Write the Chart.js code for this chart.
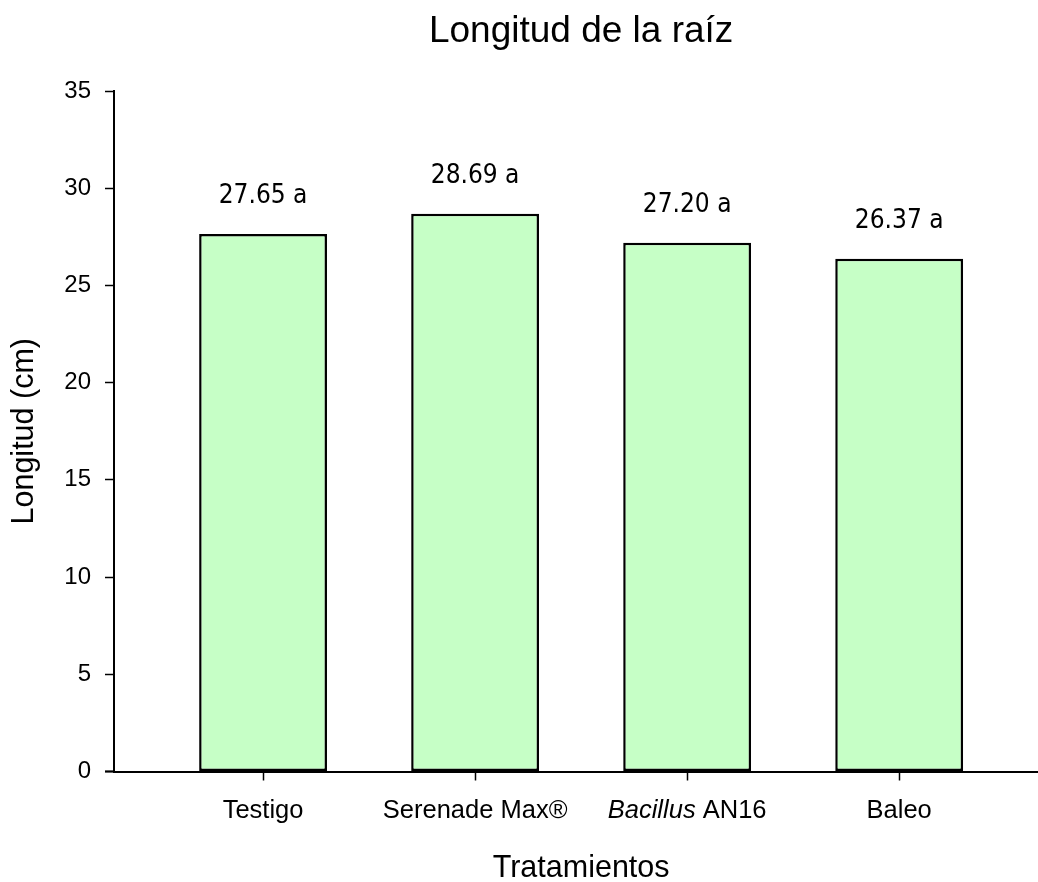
<!DOCTYPE html>
<html>
<head>
<meta charset="utf-8">
<script src="https://cdn.jsdelivr.net/npm/chart.js@4.4.1/dist/chart.umd.min.js"></script>
<style>
body { margin: 0; background: #fff; }
</style>
</head>
<body>
<canvas id="myChart" width="1038" height="882"></canvas>
<script>
// data
const categories = ["Testigo", "Serenade Max®", "Bacillus AN16", "Baleo"];
const italicPart = ["", "", "Bacillus", ""];
const values = [27.65, 28.69, 27.20, 26.37];
const letters = ["a", "a", "a", "a"];
const yTicks = [0, 5, 10, 15, 20, 25, 30, 35];

const SANS = '"Liberation Sans", Arial, sans-serif';

// draws title, axis titles, category labels and value labels
const textPlugin = {
    id: "texts",
    afterDraw(chart) {
        const ctx = chart.ctx;
        const xs = chart.scales.x;
        const ys = chart.scales.y;
        const area = chart.chartArea;
        const cx = (xs.getPixelForValue(0) + xs.getPixelForValue(categories.length - 1)) / 2;
        ctx.save();
        ctx.fillStyle = "#000";

        // little piece of x axis left of the y axis
        ctx.strokeStyle = "#000";
        ctx.lineWidth = 2;
        ctx.beginPath();
        ctx.moveTo(area.left - 9, area.bottom);
        ctx.lineTo(area.left, area.bottom);
        ctx.stroke();

        // title
        ctx.textAlign = "center";
        ctx.textBaseline = "alphabetic";
        ctx.font = "37px " + SANS;
        ctx.fillText("Longitud de la raíz", cx, 42);

        // value labels
        ctx.font = '26px "DejaVu Sans Condensed", "DejaVu Sans", sans-serif';
        values.forEach((v, i) => {
            ctx.fillText(v.toFixed(2) + " " + letters[i], xs.getPixelForValue(i), ys.getPixelForValue(v) - 31);
        });

        // category labels (part in italics)
        const fontI = "italic 25.5px " + SANS;
        const fontN = "25.5px " + SANS;
        ctx.textAlign = "left";
        categories.forEach((c, i) => {
            const it = italicPart[i];
            const rest = it ? c.slice(it.length) : c;
            ctx.font = fontI;
            const wi = it ? ctx.measureText(it).width : 0;
            ctx.font = fontN;
            const wn = ctx.measureText(rest).width;
            let sx = xs.getPixelForValue(i) - (wi + wn) / 2;
            const by = area.bottom + 46;
            if (it) {
                ctx.font = fontI;
                ctx.fillText(it, sx, by);
                sx += wi;
            }
            ctx.font = fontN;
            ctx.fillText(rest, sx, by);
        });

        // axis titles
        ctx.textAlign = "center";
        ctx.font = "30.5px " + SANS;
        ctx.fillText("Tratamientos", cx, area.bottom + 105.5);
        ctx.translate(33, (area.top + area.bottom) / 2);
        ctx.rotate(-Math.PI / 2);
        ctx.fillText("Longitud (cm)", 0, 0);
        ctx.restore();
    },
};

const config = {
    type: "bar",
    data: {
        datasets: [
            {
                data: values.map((v, i) => ({ x: i, y: v })),
                backgroundColor: "rgb(198, 255, 198)",
                borderColor: "#000",
                borderWidth: 2.5,
                borderSkipped: false,
                barPercentage: 0.603,
                categoryPercentage: 1.0,
            },
        ],
    },
    options: {
        responsive: false,
        animation: false,
        layout: { padding: { top: 91, right: 1, left: 0, bottom: 0 } },
        plugins: {
            legend: { display: false },
            title: { display: false },
            tooltip: { enabled: false },
        },
        scales: {
            x: {
                type: "linear",
                min: -0.703,
                max: 3.65,
                offset: false,
                afterFit(scale) { scale.height = 110.5; },
                border: { display: true, color: "#000", width: 2 },
                grid: { offset: false, drawOnChartArea: false, drawTicks: true, tickLength: 9, tickColor: "#000", tickWidth: 1.5 },
                ticks: {
                    stepSize: 1,
                    includeBounds: false,
                    autoSkip: false,
                    maxRotation: 0,
                    color: "rgba(0,0,0,0)",
                    font: { size: 25, family: SANS },
                    callback: (v) => categories[v] || "",
                },
            },
            y: {
                min: yTicks[0],
                max: yTicks[yTicks.length - 1],
                afterFit(scale) { scale.width = 114; },
                border: { display: true, color: "#000", width: 2 },
                grid: { drawOnChartArea: false, drawTicks: true, tickLength: 9, tickColor: "#000", tickWidth: 1.5 },
                ticks: {
                    stepSize: yTicks[1] - yTicks[0],
                    padding: 14,
                    color: "#000",
                    font: { size: 24, family: SANS },
                },
            },
        },
    },
    plugins: [textPlugin],
};

const myChart = new Chart(document.getElementById("myChart"), config);
</script>
</body>
</html>
